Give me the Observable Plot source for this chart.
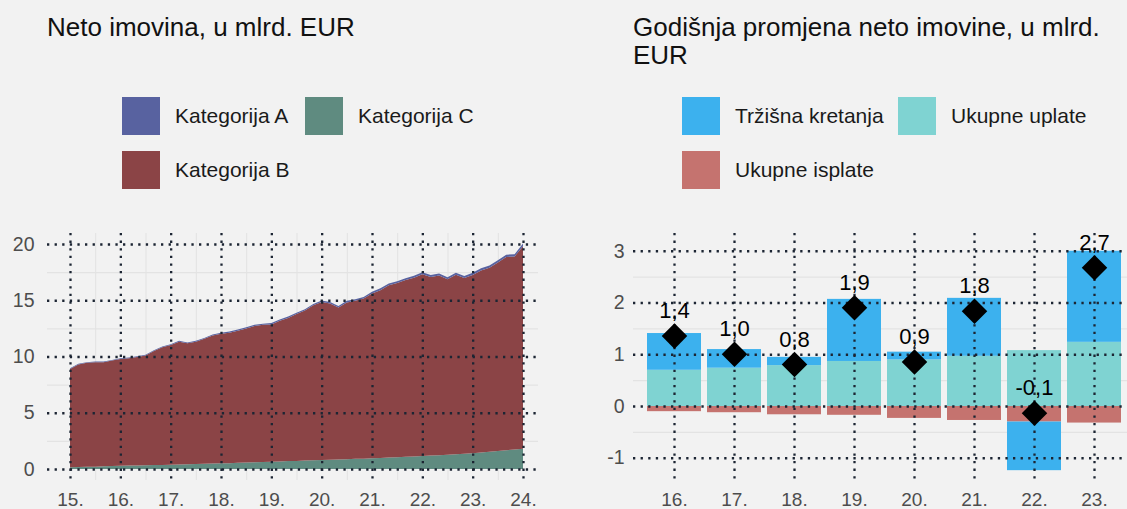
<!DOCTYPE html>
<html>
<head>
<meta charset="utf-8">
<script src="https://cdn.jsdelivr.net/npm/d3@7"></script>
<script src="https://cdn.jsdelivr.net/npm/@observablehq/plot@0.6"></script>
<style>
  html, body { margin: 0; padding: 0; background: #f2f2f2; }
  #page { position: relative; width: 1127px; height: 509px; overflow: hidden; background: #f2f2f2;
          font-family: "Liberation Sans", Arial, sans-serif; color: #111; }
  .title { position: absolute; font-size: 26px; line-height: 26px; color: #111; white-space: nowrap; }
  .sw { position: absolute; width: 38px; height: 38px; }
  .lt { position: absolute; font-size: 21px; line-height: 24px; color: #1a1a1a; white-space: nowrap; }
  .chart { position: absolute; top: 220px; }
</style>
</head>
<body>
<div id="page">
  <div class="title" style="left:47px; top:14px;">Neto imovina, u mlrd. EUR</div>
  <div class="title" style="left:633px; top:14px;">Godišnja promjena neto imovine, u mlrd.</div>
  <div class="title" style="left:633px; top:42px;">EUR</div>
  <div id="legL"></div>
  <div id="legR"></div>
  <div id="left" class="chart" style="left:0px;"></div>
  <div id="right" class="chart" style="left:563px;"></div>
</div>
<script>
// ---------- Left chart data (bimonthly, from 2015.0 to 2024.0) ----------
const leftStartYear = 2015;
const leftStepsPerYear = 6;
const categories = ["Kategorija A", "Kategorija B", "Kategorija C"];
const catColors = ["#5862a0", "#8b4446", "#5f8b80"];

const catA = [
  0.05,0.05,0.05,0.05,0.05,0.05,
  0.07,0.07,0.07,0.07,0.07,0.07,
  0.08,0.08,0.08,0.08,0.08,0.08,
  0.10,0.10,0.10,0.10,0.10,0.10,
  0.12,0.12,0.12,0.12,0.12,0.12,
  0.14,0.14,0.14,0.14,0.14,0.14,
  0.16,0.16,0.16,0.16,0.16,0.16,
  0.18,0.18,0.18,0.18,0.18,0.18,
  0.20,0.20,0.20,0.20,0.20,0.20,
  0.25
];
const catB = [
  8.75,9.13,9.26,9.29,9.26,9.39,
  9.49,9.55,9.65,9.76,10.13,10.47,
  10.64,10.92,10.75,10.88,11.11,11.39,
  11.52,11.60,11.75,11.93,12.12,12.20,
  12.20,12.51,12.73,13.06,13.33,13.78,
  14.04,13.89,13.51,13.94,14.06,14.24,
  14.64,14.92,15.32,15.49,15.71,15.89,
  16.17,15.88,15.97,15.59,15.95,15.61,
  15.85,16.18,16.37,16.75,17.18,17.17,
  18.00
];
const catC = [
  0.15,0.17,0.19,0.21,0.24,0.26,
  0.28,0.30,0.31,0.33,0.35,0.36,
  0.38,0.40,0.42,0.44,0.46,0.48,
  0.50,0.52,0.55,0.57,0.60,0.62,
  0.65,0.67,0.70,0.72,0.75,0.77,
  0.80,0.82,0.85,0.87,0.90,0.92,
  0.95,0.98,1.02,1.05,1.08,1.12,
  1.15,1.19,1.23,1.27,1.32,1.36,
  1.40,1.47,1.53,1.60,1.67,1.73,
  1.80
];
const leftYearTicks = [2015,2016,2017,2018,2019,2020,2021,2022,2023,2024];
const leftYTicks = [0,5,10,15,20];

// ---------- Right chart data ----------
const years = ["16.","17.","18.","19.","20.","21.","22.","23."];
const components = ["Tržišna kretanja", "Ukupne uplate", "Ukupne isplate"];
const compColors = ["#3cb1ee", "#7fd3d2", "#c5736f"];
const trzisnaKretanja = [0.71, 0.36, 0.16, 1.20, 0.15, 1.12, -0.94, 1.76];
const ukupneUplate    = [0.70, 0.74, 0.79, 0.87, 0.90, 0.97, 1.08, 1.24];
const ukupneIsplate   = [-0.10, -0.12, -0.16, -0.17, -0.23, -0.27, -0.30, -0.32];
const netoPromjena    = [1.36, 1.01, 0.81, 1.91, 0.86, 1.84, -0.13, 2.68];
const rightYTicks = [-1,0,1,2,3];

// ---------- common styles ----------
const FONT = "'Liberation Sans', Arial, sans-serif";
const DOT = {stroke: "#1c2533", strokeWidth: 2.3, strokeDasharray: "2.3,5.3"};
const MINOR = {stroke: "#e3e3e3", strokeWidth: 1.1};
const TICKCOL = "#4d4d4d";

// ---------- Left chart ----------
const t = catA.map((_, k) => leftStartYear + k / leftStepsPerYear);
const leftRows = [];
[["Kategorija C", catC], ["Kategorija B", catB], ["Kategorija A", catA]].forEach(([cat, arr]) => {
  arr.forEach((v, k) => leftRows.push({t: t[k], cat, v}));
});
const minorXL = leftYearTicks.slice(0, -1).map(y => y + 0.5);
const minorYL = [2.5, 7.5, 12.5, 17.5];

const left = Plot.plot({
  width: 563, height: 289,
  marginLeft: 47, marginRight: 25, marginTop: 13, marginBottom: 29,
  style: {background: "transparent", fontFamily: FONT, fontSize: "19.5px", color: TICKCOL, overflow: "visible"},
  x: {domain: [2014.543, 2024.298], label: null},
  y: {domain: [-0.978, 20.978], label: null},
  color: {domain: categories, range: catColors},
  marks: [
    Plot.ruleY(minorYL, MINOR),
    Plot.ruleX(minorXL, MINOR),
    Plot.areaY(leftRows, {x: "t", y: "v", z: "cat", fill: "cat", curve: "linear"}),
    Plot.ruleY(leftYTicks, DOT),
    Plot.ruleX(leftYearTicks, DOT),
    Plot.axisX(leftYearTicks, {tickSize: 0, tickPadding: 12, fontSize: 19, tickFormat: d => (d % 100) + ".", fill: TICKCOL, label: null}),
    Plot.axisY(leftYTicks, {tickSize: 0, tickPadding: 13, tickFormat: d => String(d), fill: TICKCOL, label: null})
  ]
});
document.getElementById("left").appendChild(left);

// ---------- Right chart ----------
const barRows = [];
years.forEach((yr, i) => {
  barRows.push({yr, comp: "Ukupne uplate", v: ukupneUplate[i]});
  barRows.push({yr, comp: "Ukupne isplate", v: ukupneIsplate[i]});
  barRows.push({yr, comp: "Tržišna kretanja", v: trzisnaKretanja[i]});
});
const netRows = years.map((yr, i) => ({yr, v: netoPromjena[i]}));
const fmt = v => v.toFixed(1).replace(".", ",");

const right = Plot.plot({
  width: 564, height: 289,
  marginLeft: 77, marginRight: 0, marginTop: 13, marginBottom: 29,
  style: {background: "transparent", fontFamily: FONT, fontSize: "19.5px", color: TICKCOL, overflow: "visible"},
  x: {domain: years, paddingInner: 0.1, paddingOuter: 0.05, label: null},
  y: {domain: [-1.43, 3.343], label: null},
  color: {domain: components, range: compColors},
  marks: [
    Plot.ruleY([-0.5, 0.5, 1.5, 2.5], {...MINOR, insetLeft: -7}),
    Plot.barY(barRows, {x: "yr", y: "v", fill: "comp"}),
    Plot.ruleY(rightYTicks, {...DOT, insetLeft: -7}),
    Plot.ruleX(years, DOT),
    Plot.dot(netRows, {x: "yr", y: "v", symbol: "diamond2", r: 11.5, fill: "black", stroke: null}),
    Plot.text(netRows, {x: "yr", y: "v", text: d => fmt(d.v), dy: -25, fontSize: 22, fill: "black"}),
    Plot.axisX(years, {tickSize: 0, tickPadding: 12, fontSize: 19, fill: TICKCOL, label: null}),
    Plot.axisY(rightYTicks, {tickSize: 0, tickPadding: 16, tickFormat: d => String(d), fill: TICKCOL, label: null})
  ]
});
document.getElementById("right").appendChild(right);

// ---------- Legends (HTML) ----------
function legend(el, items) {
  const c = document.getElementById(el);
  items.forEach(({label, color, x, y, tx}) => {
    const s = document.createElement("div");
    s.className = "sw"; s.style.left = x + "px"; s.style.top = y + "px"; s.style.background = color;
    c.appendChild(s);
    const l = document.createElement("div");
    l.className = "lt"; l.style.left = tx + "px"; l.style.top = (y + 7) + "px"; l.textContent = label;
    c.appendChild(l);
  });
}
legend("legL", [
  {label: categories[0], color: catColors[0], x: 122, y: 97, tx: 175},
  {label: categories[2], color: catColors[2], x: 305, y: 97, tx: 358},
  {label: categories[1], color: catColors[1], x: 122, y: 151, tx: 175}
]);
legend("legR", [
  {label: components[0], color: compColors[0], x: 682, y: 97, tx: 735},
  {label: components[1], color: compColors[1], x: 898, y: 97, tx: 951},
  {label: components[2], color: compColors[2], x: 682, y: 151, tx: 735}
]);
</script>
</body>
</html>
